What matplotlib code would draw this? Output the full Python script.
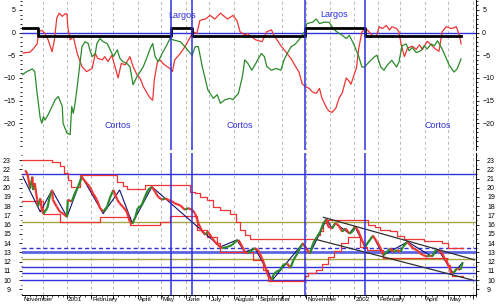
import pandas as pd
import matplotlib
matplotlib.use('Agg')
import matplotlib.pyplot as plt
from matplotlib.ticker import MultipleLocator, FixedLocator
from matplotlib.collections import LineCollection

START = pd.Timestamp('2000-11-01')  # x axis = days since this date

# ---- top panel: oscillators ----
red_days = [5, 14, 18, 23, 25, 29, 33, 37, 42, 45,
            48, 51, 55, 59, 61, 62, 65, 69, 74, 80,
            86, 93, 97, 100, 106, 109, 113, 118, 122, 126,
            130, 135, 141, 145, 150, 154, 158, 163, 167, 170,
            172, 176, 179, 183, 188, 192, 195, 198, 205, 211,
            218, 221, 226, 230, 237, 243, 249, 256, 265, 272,
            277, 281, 287, 291, 293, 301, 309, 315, 321, 324,
            328, 333, 340, 346, 352, 356, 360, 365, 369, 373,
            378, 382, 385, 391, 394, 398, 403, 407, 411, 416,
            420, 422, 426, 429, 432, 436, 441, 445, 449, 454,
            458, 462, 467, 471, 474, 480, 483, 486, 490, 494,
            500, 505, 509, 513, 519, 524, 530, 534, 538, 543,
            550, 556, 560, 562]
red_vals = [-4.5, -4.3, -3.6, -2.5, 0.2, 0.5, -0.2, -1.6, -4.2, -1.6,
            3.2, 4.3, 3.6, 4.2, 4.0, 1.3, -1.6, -0.9, -4.6, -7.5,
            -8.6, -7.9, -4.6, -5.7, -6.0, -5.3, -6.4, -5.0, -7.5, -10.0,
            -6.8, -7.1, -5.3, -7.5, -9.3, -10.1, -11.9, -13.4, -14.5, -14.9,
            -10.4, -6.4, -6.0, -6.8, -7.5, -7.9, -8.6, -6.0, -4.6, -3.1,
            -0.9, 0.2, -0.2, 2.7, 3.0, 3.8, 3.0, 4.3, 3.0, 3.8,
            2.7, 0.2, -0.5, -0.2, -0.6, -1.6, -2.0, 0.2, 0.6, -0.6,
            -1.6, -2.9, -4.4, -5.8, -7.6, -8.7, -11.3, -12.0, -12.3, -13.1,
            -13.4, -12.3, -14.4, -16.6, -17.3, -17.6, -16.6, -14.4, -13.3, -10.0,
            -10.8, -11.4, -9.3, -7.8, -3.4, 0.2, 0.9, 0.2, -0.6, -0.9,
            1.3, 0.9, 1.6, 0.6, 1.3, 0.9, 0.2, -2.7, -5.3, -3.4,
            -3.0, -3.7, -2.7, -3.7, -1.9, -2.7, -3.7, -4.1, 0.2, 1.3,
            0.9, 1.3, -0.6, -2.5]

green_days = [4, 10, 17, 20, 23, 27, 29, 31, 33, 37,
              42, 46, 50, 55, 56, 61, 65, 67, 69, 71,
              74, 77, 80, 84, 88, 90, 93, 97, 99, 103,
              107, 112, 116, 120, 125, 128, 132, 137, 141, 145,
              150, 154, 158, 163, 167, 170, 173, 177, 182, 188,
              192, 196, 205, 211, 218, 220, 224, 228, 233, 237,
              240, 247, 252, 256, 262, 268, 272, 279, 284, 287,
              291, 296, 301, 308, 312, 315, 321, 327, 333, 337,
              341, 346, 350, 354, 359, 363, 366, 373, 378, 382,
              388, 394, 401, 404, 411, 416, 420, 426, 432, 436,
              439, 445, 452, 455, 460, 464, 468, 474, 480, 483,
              487, 492, 496, 500, 505, 511, 515, 519, 524, 528,
              532, 537, 541, 547, 553, 557, 562]
green_vals = [-9.3, -8.6, -8.0, -8.6, -13.4, -18.9, -20.0, -18.5, -19.3, -18.1,
              -16.3, -14.8, -14.1, -16.3, -20.0, -22.2, -22.5, -16.3, -17.8, -15.9,
              -11.9, -7.5, -3.1, -2.0, -2.4, -3.8, -5.3, -4.6, -2.4, -1.3,
              -2.0, -2.4, -3.8, -5.3, -3.8, -5.6, -6.4, -6.8, -7.5, -11.5,
              -9.7, -8.6, -7.5, -5.3, -3.4, -2.4, -5.3, -6.4, -4.6, -2.7,
              -1.3, -1.6, -2.0, -3.1, -4.6, -5.0, -3.1, -3.1, -7.5, -10.4,
              -12.6, -14.5, -13.7, -15.6, -14.8, -14.5, -14.8, -13.4, -9.7, -6.0,
              -6.8, -8.3, -6.8, -4.6, -5.3, -7.5, -8.3, -7.9, -8.3, -6.0,
              -4.6, -3.1, -2.7, -2.0, -0.9, 0.2, 2.0, 2.3, 3.0, 2.0,
              2.3, 2.3, 0.6, 0.2, -0.6, -1.3, -0.6, -2.7, -5.3, -7.6,
              -7.6, -6.5, -5.3, -5.0, -7.6, -8.3, -7.2, -6.1, -7.6, -6.5,
              -2.9, -2.5, -4.0, -3.3, -4.4, -4.0, -2.9, -3.6, -2.5, -2.9,
              -1.8, -3.3, -4.8, -7.2, -8.7, -8.0, -5.8]

# long / short state (black step line) and the days it switches
pos_days = [4, 24, 193, 220, 363, 440, 562]
pos_vals = [1.1, -0.7, 1.1, -0.7, 1.1, -0.7, -0.7]
switch_days = [193, 220, 363, 440]

# ---- bottom panel: price ----
price_days = [8, 11, 14, 17, 18, 20, 23, 24, 27, 29,
              31, 36, 39, 42, 43, 48, 52, 56, 61, 62,
              67, 71, 75, 80, 81, 86, 90, 94, 99, 103,
              107, 112, 116, 120, 125, 128, 132, 137, 141, 144,
              148, 151, 156, 160, 164, 169, 173, 177, 182, 186,
              190, 195, 198, 205, 211, 215, 220, 224, 228, 233,
              237, 240, 246, 249, 253, 258, 265, 271, 275, 279,
              284, 287, 291, 296, 300, 304, 309, 313, 317, 322,
              323, 327, 332, 336, 341, 345, 349, 354, 357, 361,
              366, 370, 374, 379, 383, 387, 391, 393, 398, 402,
              406, 411, 415, 420, 424, 427, 431, 436, 440, 443,
              446, 450, 455, 459, 463, 468, 472, 476, 481, 485,
              488, 494, 497, 501, 506, 510, 514, 519, 523, 525,
              530, 533, 538, 542, 546, 549, 552, 557, 561, 564]
price_vals = [21.9, 21.4, 19.9, 21.2, 19.75, 20.5, 18.7, 17.95, 18.85, 17.6,
              17.2, 17.8, 19.0, 19.75, 18.7, 17.95, 17.4, 17.2, 16.85, 18.7,
              18.5, 19.4, 20.1, 21.2, 21.0, 20.5, 20.1, 19.4, 18.7, 17.8,
              17.4, 17.95, 19.0, 19.75, 18.7, 18.3, 17.95, 17.4, 16.3, 16.1,
              16.85, 17.8, 18.1, 19.0, 19.75, 20.1, 19.55, 19.0, 18.7, 18.85,
              18.7, 18.5, 18.3, 18.1, 17.6, 17.8, 17.6, 17.2, 16.15, 15.25,
              14.9, 15.25, 14.5, 14.15, 13.8, 13.45, 13.6, 13.8, 14.15, 14.35,
              13.6, 13.05, 12.9, 13.25, 13.45, 13.25, 12.35, 11.45, 10.4, 10.0,
              10.55, 10.9, 11.1, 11.65, 11.8, 11.3, 12.2, 12.9, 13.45, 14.0,
              13.25, 12.9, 14.0, 14.7, 15.25, 16.15, 16.6, 15.8, 15.6, 16.15,
              15.95, 15.25, 15.6, 15.05, 15.25, 15.8, 15.4, 14.35, 13.6, 14.0,
              14.35, 14.8, 14.15, 13.6, 12.7, 13.05, 13.45, 13.05, 13.25, 13.05,
              13.6, 14.15, 13.8, 13.45, 13.25, 12.9, 12.7, 12.55, 12.7, 12.55,
              13.25, 13.25, 12.9, 12.2, 11.65, 10.9, 10.75, 11.3, 11.1, 11.9]

# swing line (zigzag) pivots
zz_days = [5, 27, 42, 61, 80, 107, 128, 144, 169, 246,
           256, 277, 287, 300, 322, 361, 370, 391, 398, 402,
           420, 427, 440, 450, 463, 494, 525, 533, 552, 564]
zz_vals = [21.2, 17.4, 19.75, 16.85, 21.2, 17.2, 19.75, 16.15, 20.1, 14.35,
           13.6, 14.35, 13.05, 13.45, 10.0, 14.0, 12.9, 16.6, 15.6, 16.15,
           15.05, 15.8, 13.6, 14.8, 12.7, 14.15, 12.55, 13.3, 10.75, 11.9]

# price channel (upper / lower), stepped
up_days = [4, 42, 52, 57, 62, 66, 78, 125, 132, 137,
           160, 218, 224, 230, 239, 247, 256, 268, 276, 281,
           287, 294, 303, 379, 383, 387, 391, 444, 453, 459,
           472, 481, 490, 515, 538, 546, 564]
up_vals = [23.0, 22.8, 22.3, 21.6, 20.85, 20.1, 21.4, 20.65, 20.2, 19.9,
           20.25, 19.55, 19.4, 19.0, 18.7, 17.95, 17.6, 17.2, 16.3, 15.4,
           14.9, 14.5, 14.4, 14.9, 15.3, 16.15, 16.5, 15.95, 15.8, 15.4,
           15.3, 14.8, 14.4, 14.2, 14.0, 13.45, 13.45]
lo_days = [4, 31, 52, 103, 141, 179, 192, 226, 239, 252,
           256, 298, 310, 317, 363, 368, 377, 385, 393, 400,
           410, 418, 434, 443, 463, 544, 548, 551, 564]
lo_vals = [18.6, 17.2, 16.3, 16.85, 15.95, 16.3, 16.95, 15.4, 14.7, 14.0,
           13.05, 12.2, 11.1, 9.95, 10.4, 10.75, 11.1, 11.8, 12.5, 13.2,
           14.0, 14.7, 13.6, 13.25, 12.4, 11.65, 10.9, 10.5, 10.5]

# horizontal levels
blue_levels = [21.45, 11.45, 10.75, 10.05]
main_level = 13.0
dashed_level = 13.45
olive_levels = [16.3, 12.3]

# falling channel drawn in 2001-2002
trend_upper_days = [387, 579]
trend_upper_vals = [16.8, 12.2]
trend_lower_days = [380, 577]
trend_lower_vals = [14.35, 10.0]

# x labels
month_labels = ['November', '2001', 'February', 'April', 'May', 'June', 'July',
                'August', 'September', 'November', '2002', 'February', 'April', 'May']
month_label_dates = ['2000-11-01', '2001-01-01', '2001-02-01', '2001-04-01', '2001-05-01',
                     '2001-06-01', '2001-07-01', '2001-08-01', '2001-09-01', '2001-11-01',
                     '2002-01-01', '2002-02-01', '2002-04-01', '2002-05-01']

BLUE = '#3030dc'
RED = '#f03434'
GREEN = '#2a8a2a'
OLIVE = '#a4a444'
GRID = '#b8b8b8'
FONT = 'Liberation Sans'

plt.rcParams['font.family'] = [FONT, 'DejaVu Sans']

fig = plt.figure(figsize=(4.99, 3.06), dpi=100)
ax1 = fig.add_axes([0.0441, 0.5098, 0.9098, 0.4902])
ax2 = fig.add_axes([0.0441, 0.0359, 0.9098, 0.4641])

month_days = [(d - START).days for d in pd.date_range('2000-12-01', '2002-06-01', freq='MS')]

for ax in (ax1, ax2):
    ax.set_xlim(3.8, 581)
    for d in month_days:
        ax.axvline(d, color=GRID, lw=0.7, ls=(0, (3, 3)), zorder=0)
    for d in switch_days:
        ax.axvline(d, color=BLUE, lw=1.1, zorder=6)
    for s in ['top', 'left']:
        ax.spines[s].set_visible(False)
    ax.spines['right'].set_linewidth(0.7)
    ax.tick_params(axis='y', which='both', left=True, right=True,
                   labelleft=True, labelright=True, labelsize=5, width=0.6)

# ---- top panel ----
ax1.set_ylim(-25.9, 7.2)
ax1.spines['bottom'].set_visible(False)
ax1.set_xticks([])
ax1.yaxis.set_major_locator(FixedLocator([5, 0, -5, -10, -15, -20]))
ax1.yaxis.set_minor_locator(MultipleLocator(1))
ax1.tick_params(axis='y', which='major', length=2.5, pad=2)
ax1.tick_params(axis='y', which='minor', length=1.2)

ax1.axhline(0, color=BLUE, lw=1.0, zorder=2)
ax1.plot(red_days, red_vals, color=RED, lw=0.9, zorder=3)
ax1.plot(green_days, green_vals, color=GREEN, lw=0.9, zorder=3)
ax1.plot(pos_days, pos_vals, color='black', lw=2.0, drawstyle='steps-post', zorder=4)

txt = dict(color=BLUE, fontsize=6.5, ha='center', va='center')
ax1.text(207, 3.7, 'Largos', **txt)
ax1.text(401, 4.1, 'Largos', **txt)
ax1.text(126, -20.6, 'Cortos', **txt)
ax1.text(281, -20.6, 'Cortos', **txt)
ax1.text(533, -20.4, 'Cortos', **txt)

# ---- bottom panel ----
ax2.set_ylim(8.39, 23.76)
ax2.yaxis.set_major_locator(MultipleLocator(1))
ax2.yaxis.set_minor_locator(MultipleLocator(0.5))
ax2.tick_params(axis='y', which='major', length=2, pad=6)
ax2.tick_params(axis='y', which='minor', length=1)
ax2.spines['bottom'].set_linewidth(0.7)

for lv in blue_levels:
    ax2.axhline(lv, color=BLUE, lw=1.0, zorder=2)
ax2.axhline(main_level, color='#5c64e4', lw=2.0, zorder=2)
ax2.axhline(dashed_level, color=BLUE, lw=1.0, ls=(0, (3, 2)), zorder=2)
for lv in olive_levels:
    ax2.axhline(lv, color=OLIVE, lw=1.0, zorder=2)

ax2.plot(up_days, up_vals, color=RED, lw=0.9, drawstyle='steps-post', zorder=3)
ax2.plot(lo_days, lo_vals, color=RED, lw=0.9, drawstyle='steps-post', zorder=3)

ax2.plot(zz_days, zz_vals, color='#101070', lw=0.8, zorder=4)

# price drawn as short up (green) / down (red) strokes
segs, cols = [], []
for i in range(1, len(price_days)):
    segs.append([(price_days[i - 1], price_vals[i - 1]), (price_days[i], price_vals[i])])
    cols.append(GREEN if price_vals[i] >= price_vals[i - 1] else RED)
ax2.add_collection(LineCollection(segs, colors=cols, linewidths=1.6, zorder=5))

ax2.plot(trend_upper_days, trend_upper_vals, color='#303030', lw=0.9, zorder=5)
ax2.plot(trend_lower_days, trend_lower_vals, color='#303030', lw=0.9, zorder=5)

ax2.set_xticks(month_days)
ax2.set_xticklabels([])
ax2.xaxis.set_minor_locator(MultipleLocator(7))
ax2.tick_params(axis='x', which='major', length=3, width=0.6)
ax2.tick_params(axis='x', which='minor', length=1.5, width=0.5)
for lab, ds in zip(month_labels, month_label_dates):
    d = max((pd.Timestamp(ds) - START).days, 4)
    ax2.text(d + 1.5, -0.012, lab, transform=ax2.get_xaxis_transform(),
             fontsize=4.6, ha='left', va='top')

fig.savefig('out.png', dpi=100)
